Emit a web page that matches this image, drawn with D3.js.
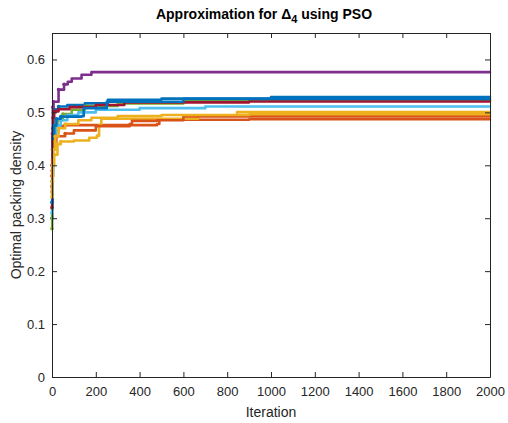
<!DOCTYPE html>
<html><head><meta charset="utf-8">
<script src="https://cdn.jsdelivr.net/npm/d3@7"></script>
<style>
body{margin:0;background:#fff;}
svg{display:block;font-family:"Liberation Sans",Arial,Helvetica,sans-serif;}
</style></head>
<body>
<svg id="chart" width="508" height="423"></svg>
<script>
// ---- data (iteration, best packing density) breakpoints per PSO run ----
const runBlue1   = [[0,0.30],[1,0.37],[2,0.43],[4,0.47],[6,0.50],[10,0.506],[30,0.511],[70,0.514],[150,0.517],[255,0.524],[500,0.526],[1000,0.529],[2000,0.529]];
const runOrange1 = [[0,0.36],[2,0.40],[4,0.43],[8,0.45],[15,0.465],[30,0.474],[60,0.476],[480,0.478],[490,0.486],[900,0.487],[2000,0.487]];
const runYellow1 = [[0,0.35],[2,0.38],[5,0.40],[10,0.42],[25,0.44],[40,0.445],[100,0.447],[170,0.452],[205,0.456],[215,0.476],[225,0.488],[667,0.494],[845,0.5004],[2000,0.5004]];
const runPurple  = [[0,0.40],[2,0.46],[4,0.51],[7,0.52],[30,0.543],[55,0.553],[72,0.558],[90,0.564],[135,0.571],[180,0.576],[2000,0.576]];
const runGreen   = [[0,0.28],[1,0.33],[3,0.40],[6,0.45],[12,0.47],[25,0.485],[50,0.497],[90,0.505],[150,0.512],[300,0.517],[600,0.523],[2000,0.523]];
const runCyan    = [[0,0.31],[2,0.38],[5,0.43],[10,0.46],[20,0.475],[40,0.485],[70,0.495],[120,0.50],[200,0.505],[400,0.508],[700,0.511],[2000,0.511]];
const runDarkRed = [[0,0.32],[1,0.39],[3,0.45],[5,0.49],[10,0.502],[30,0.506],[80,0.51],[200,0.514],[330,0.519],[900,0.5205],[2000,0.5205]];
const runBlue2   = [[0,0.33],[2,0.40],[5,0.45],[10,0.475],[20,0.488],[40,0.492],[135,0.493],[145,0.508],[250,0.52],[600,0.5255],[2000,0.5255]];
const runOrange2 = [[0,0.38],[2,0.41],[5,0.43],[10,0.445],[20,0.455],[60,0.46],[100,0.466],[200,0.474],[355,0.478],[365,0.484],[480,0.485],[600,0.4925],[2000,0.4925]];
const runYellow2 = [[0,0.34],[2,0.37],[4,0.40],[8,0.43],[15,0.455],[30,0.47],[60,0.478],[120,0.485],[180,0.49],[300,0.493],[500,0.495],[900,0.4966],[2000,0.4966]];

const runs   = [runBlue1, runOrange1, runYellow1, runPurple, runGreen, runCyan, runDarkRed, runBlue2, runOrange2, runYellow2];
const colors = ["#0072BD","#D95319","#EDB120","#7E2F8E","#77AC30","#4DBEEE","#A2142F","#0072BD","#D95319","#EDB120"];

const xTicks = [0,200,400,600,800,1000,1200,1400,1600,1800,2000];
const yTicks = [0,0.1,0.2,0.3,0.4,0.5,0.6];
const titleMain = "Approximation for \u0394";
const titleSub = "4";
const titleEnd = " using PSO";
const xLabel = "Iteration";
const yLabel = "Optimal packing density";

// ---- layout ----
const L = 52, R = 490, T = 33, B = 377;
const axisColor = "#262626";
const svg = d3.select("#chart");
const x = d3.scaleLinear().domain([0,2000]).range([L,R]);
const y = d3.scaleLinear().domain([0,0.65]).range([B,T]);

// lines
const line = d3.line().x(d=>x(d[0])).y(d=>y(d[1])).curve(d3.curveStepAfter);
const g = svg.append("g");
runs.forEach((r,i)=>{
  g.append("path").datum(r).attr("d",line)
    .attr("fill","none").attr("stroke",colors[i]).attr("stroke-width",2.6)
    .attr("stroke-linejoin","round").attr("stroke-linecap","round");
  g.selectAll(null).data(r.filter(d=>d[0]<=60)).enter().append("circle")
    .attr("cx",d=>x(d[0])).attr("cy",d=>y(d[1])).attr("r",1.8).attr("fill",colors[i]);
});

// axes (MATLAB box style, ticks inward)
const tl = 5;
const xb = svg.append("g").attr("transform",`translate(0,${B})`)
  .call(d3.axisBottom(x).tickValues(xTicks).tickSizeInner(-tl).tickSizeOuter(0).tickPadding(10).tickFormat(d3.format("d")));
const xt = svg.append("g").attr("transform",`translate(0,${T})`)
  .call(d3.axisTop(x).tickValues(xTicks).tickSizeInner(-tl).tickSizeOuter(0).tickFormat(""));
const yl = svg.append("g").attr("transform",`translate(${L},0)`)
  .call(d3.axisLeft(y).tickValues(yTicks).tickSizeInner(-tl).tickSizeOuter(0).tickPadding(7).tickFormat(d=>d===0?"0":d3.format(".1f")(d)));
const yr = svg.append("g").attr("transform",`translate(${R},0)`)
  .call(d3.axisRight(y).tickValues(yTicks).tickSizeInner(-tl).tickSizeOuter(0).tickFormat(""));
[xb,xt,yl,yr].forEach(a=>{
  a.selectAll("path,line").attr("stroke",axisColor).attr("stroke-width",1);
  a.selectAll("text").attr("fill",axisColor).attr("font-size",13)
    .attr("font-family","'Liberation Sans',Arial,sans-serif");
});

// titles
const t = svg.append("text").attr("x",264).attr("y",19).attr("text-anchor","middle")
  .attr("font-size",14).attr("font-weight","bold").attr("fill","#000");
t.append("tspan").text(titleMain);
t.append("tspan").attr("dy",4).attr("font-size",11).text(titleSub);
t.append("tspan").attr("dy",-4).text(titleEnd);

svg.append("text").attr("x",(L+R)/2).attr("y",417).attr("text-anchor","middle")
  .attr("font-size",14).attr("fill",axisColor).text(xLabel);
svg.append("text").attr("transform",`translate(21,${(T+B)/2}) rotate(-90)`).attr("text-anchor","middle")
  .attr("font-size",14).attr("fill",axisColor).text(yLabel);
</script>
</body></html>
